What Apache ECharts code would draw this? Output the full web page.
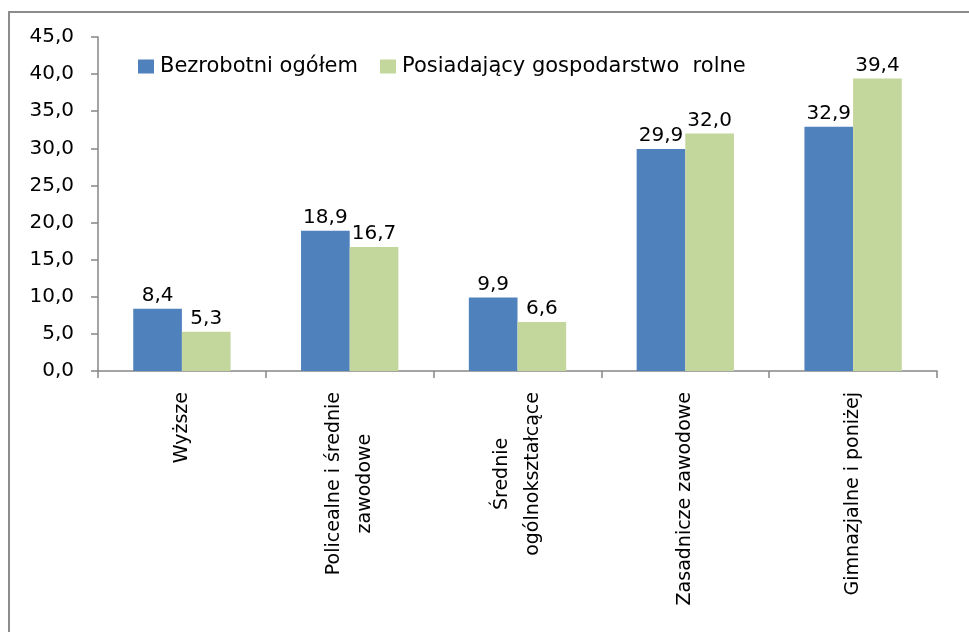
<!DOCTYPE html>
<html>
<head>
<meta charset="utf-8">
<script src="https://cdn.jsdelivr.net/npm/echarts@6/dist/echarts.min.js"></script>
<style>
html,body{margin:0;padding:0;background:#fff;}
#chart{width:969px;height:632px;}
</style>
</head>
<body>
<div id="chart"></div>
<script>
const categories = ['Wyższe', 'Policealne i średnie\nzawodowe', 'Średnie\nogólnokształcące', 'Zasadnicze zawodowe', 'Gimnazjalne i poniżej'];
const seriesNames = ['Bezrobotni ogółem', 'Posiadający gospodarstwo  rolne'];
const bezrobotni = [8.4, 18.9, 9.9, 29.9, 32.9];
const posiadajacy = [5.3, 16.7, 6.6, 32.0, 39.4];
const yTicks = [0, 5, 10, 15, 20, 25, 30, 35, 40, 45];

const FONT = 'DejaVu Sans';
const fmt = v => Number(v).toFixed(1).replace('.', ',');

const chart = echarts.init(document.getElementById('chart'));
chart.setOption({
  animation: false,
  backgroundColor: '#fff',
  textStyle: { fontFamily: FONT },
  graphic: [{
    type: 'rect',
    shape: { x: 9, y: 12, width: 1000, height: 700 },
    style: { fill: 'none', stroke: '#8c8c8c', lineWidth: 2 },
    silent: true
  }],
  legend: {
    left: 133,
    top: 51,
    itemWidth: 16,
    itemHeight: 14,
    itemGap: 22,
    icon: 'rect',
    textStyle: { fontFamily: FONT, fontSize: 21, color: '#000', padding: [0, 0, 0, 1] },
    data: seriesNames
  },
  grid: { left: 98, right: 32, top: 37, bottom: 261, containLabel: false },
  xAxis: {
    type: 'category',
    data: categories,
    axisLine: { lineStyle: { color: '#868686', width: 1.5 } },
    axisTick: { show: true, length: 7, lineStyle: { color: '#868686', width: 1.5 } },
    axisLabel: {
      rotate: 90,
      margin: 21,
      interval: 0,
      color: '#000',
      fontFamily: FONT,
      fontSize: 19,
      formatter: function (v) {
        return v.split('\n').map(function (l) { return '{c|' + l + '}'; }).join('\n');
      },
      rich: { c: { align: 'center', lineHeight: 31, fontSize: 19, fontFamily: FONT, color: '#000' } }
    }
  },
  yAxis: {
    type: 'value',
    min: yTicks[0],
    max: yTicks[yTicks.length - 1],
    interval: 5,
    splitLine: { show: false },
    axisLine: { show: true, lineStyle: { color: '#868686', width: 1.5 } },
    axisTick: { show: true, length: 7, lineStyle: { color: '#868686', width: 1.5 } },
    axisLabel: { margin: 24, color: '#000', fontFamily: FONT, fontSize: 20, formatter: fmt }
  },
  series: [
    {
      name: seriesNames[0],
      type: 'bar',
      data: bezrobotni,
      barGap: '0%',
      barCategoryGap: '42%',
      itemStyle: { color: '#4F81BD' },
      label: { show: true, position: 'top', distance: 3, color: '#000', fontFamily: FONT, fontSize: 20, formatter: p => fmt(p.value) }
    },
    {
      name: seriesNames[1],
      type: 'bar',
      data: posiadajacy,
      barGap: '0%',
      barCategoryGap: '42%',
      itemStyle: { color: '#C3D69B' },
      label: { show: true, position: 'top', distance: 3, color: '#000', fontFamily: FONT, fontSize: 20, formatter: p => fmt(p.value) }
    }
  ]
});
</script>
</body>
</html>
